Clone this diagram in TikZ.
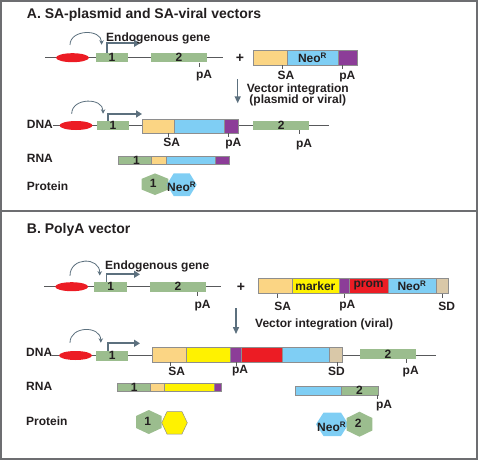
\documentclass[tikz,border=0pt]{standalone}
\usepackage{fontspec}
\setmainfont{Liberation Sans}
\usepackage{tikz}
\usetikzlibrary{arrows.meta, shapes.geometric}

\definecolor{exongreen}{HTML}{9BBD8E}
\definecolor{enhred}{HTML}{EC1C24}
\definecolor{saorange}{HTML}{FBD584}
\definecolor{neoblue}{HTML}{7FCEF4}
\definecolor{papurple}{HTML}{8C3D98}
\definecolor{markeryellow}{HTML}{FFF200}
\definecolor{sdtan}{HTML}{D9C8A8}
\definecolor{slate}{HTML}{5C707E}
\definecolor{segline}{HTML}{8E8E8E}
\definecolor{dnagray}{HTML}{58595B}
\definecolor{framegray}{HTML}{6D6E71}
\definecolor{txt}{HTML}{231F20}

\begin{document}
\begin{tikzpicture}[x=1pt, y=-1pt,
    every node/.style={font=\fontsize{12}{14}\selectfont\bfseries, text=txt, inner sep=0pt},
    title/.style={anchor=base west, font=\fontsize{14}{16}\selectfont\bfseries},
    seg/.style={draw=segline, line width=0.4pt, minimum height=15pt},
    exon/.style={fill=exongreen, minimum height=9.5pt},
    rna/.style={draw=segline, line width=0.4pt, minimum height=8.5pt},
    enh/.style={ellipse, fill=enhred, minimum width=33pt, minimum height=9pt},
    dna/.style={draw=dnagray, line width=0.8pt},
    tickmark/.style={draw=dnagray, line width=0.5pt},
    enharrow/.style={draw=slate, line width=0.8pt, -{Stealth[length=4.5pt,width=4.5pt]}},
    tss/.style={draw=slate, line width=1.8pt, -{Triangle[length=6pt,width=7pt]}},
    integ/.style={draw=slate, line width=1.5pt, -{Triangle[length=7pt,width=6pt]}}]
\useasboundingbox (0,0) rectangle (478,460);

% frame and divider
\draw[framegray, line width=1.5pt] (1.2,1.2) rectangle (476.8,458.8);
\draw[framegray, line width=1.2pt] (1.2,211) -- (476.8,211);

%%%% A. SA-plasmid and SA-viral vectors
\node[title] (titleA) at (26.7,18.5) {A. SA-plasmid and SA-viral vectors};

% endogenous locus
\coordinate (a1L) at (45,57.7);
\coordinate (a1R) at (222.7,57.7);
\draw[dna] (a1L) -- (a1R);
\node[enh] (enhA1) at (72.5,57.7) {};
\node[exon, minimum width=32.3pt] (exA1a) at (111.9,57.7) {1};
\node[exon, minimum width=56pt] (exA1b) at (179,57.7) {2};
\draw[tickmark] ([xshift=20pt]exA1b.south) -- ++(0,4);
\node[anchor=base] (pAA1) at (204,78.7) {pA};
\draw[enharrow] ([xshift=-2.5pt,yshift=8pt]enhA1.north) .. controls +(0,-16) and +(0,-16) .. ([xshift=6pt,yshift=8pt]exA1a.north west);
\coordinate (tssA1) at (140,43.3);
\draw[tss] ([xshift=11.6pt]exA1a.north west) |- (tssA1);
\node[anchor=base west] (geneA) at (106,41.3) {Endogenous gene};

\node[font=\fontsize{14}{16}\selectfont\bfseries] (plusA) at (240,58.5) {+};

% vector
\node[seg, fill=saorange, minimum width=34pt] (vAsa) at (270.3,57.7) {};
\node[seg, fill=neoblue, minimum width=50.4pt] (vAneo) at (312.5,57.7) {Neo\textsuperscript{R}};
\node[seg, fill=papurple, minimum width=19.6pt] (vApa) at (347.5,57.7) {};
\draw[tickmark] ([xshift=12.4pt]vAsa.south) -- ++(0,4);
\draw[tickmark] ([xshift=-4.8pt]vApa.south) -- ++(0,4);
\node[anchor=base] (saA) at (286,79.3) {SA};
\node[anchor=base] (pAvA) at (347.3,79.3) {pA};

% integration
\coordinate (intAs) at (237.7,79.3);
\coordinate (intAe) at (237.7,103.3);
\draw[integ] (intAs) -- (intAe);
\node[anchor=base] (intA1) at (297.8,92.5) {Vector integration};
\node[anchor=base] (intA2) at (297.8,103) {(plasmid or viral)};

% integrated locus
\node[anchor=base west] (dnaA) at (26.7,128.5) {DNA};
\coordinate (a2R) at (329.3,125.5);
\draw[dna] (dnaA.east |- a2R) -- (a2R);
\node[enh] (enhA2) at (76,125.5) {};
\node[exon, minimum width=32.6pt] (exA2a) at (113,125.5) {1};
\node[seg, fill=saorange, minimum width=32.3pt, minimum height=14pt] (vA2sa) at (157.85,126) {};
\node[seg, fill=neoblue, minimum width=50pt, minimum height=14pt] (vA2neo) at (199,126) {};
\node[seg, fill=papurple, minimum width=13.7pt, minimum height=14pt] (vA2pa) at (230.85,126) {};
\node[exon, minimum width=55.7pt] (exA2b) at (281.15,125.5) {2};
\draw[tickmark] ([xshift=10.45pt]vA2sa.south) -- ++(0,4);
\draw[tickmark] ([xshift=-2.55pt]vA2pa.south) -- ++(0,4);
\draw[tickmark] ([xshift=18.15pt]exA2b.south) -- ++(0,4);
\node[anchor=base] (saA2) at (171.7,146.7) {SA};
\node[anchor=base] (pAA2) at (233.3,146.7) {pA};
\node[anchor=base] (pAA3) at (304,147.3) {pA};
\draw[enharrow] ([xshift=-4.3pt,yshift=7pt]enhA2.north) .. controls +(0,-16.4) and +(0,-16.4) .. ([xshift=6.6pt,yshift=6.8pt]exA2a.north west);
\coordinate (tssA2) at (142,114);
\draw[tss] ([xshift=11.6pt]exA2a.north west) |- (tssA2);

% RNA
\node[anchor=base west] (rnaA) at (26.7,162) {RNA};
\node[rna, fill=exongreen, minimum width=32.4pt] (rnaA1) at (134.5,160.2) {\hspace{4pt}1};
\node[rna, fill=saorange, minimum width=15pt] (rnaA2) at (158.2,160.2) {};
\node[rna, fill=neoblue, minimum width=49.3pt] (rnaA3) at (190.35,160.2) {};
\node[rna, fill=papurple, minimum width=14pt] (rnaA4) at (222,160.2) {};

% protein
\node[anchor=base west] (protA) at (26.7,190) {Protein};
\fill[exongreen] (141.7,178.8) -- (155,173.4) -- (168.3,178.8) -- (168.3,189.6) -- (155,195) -- (141.7,189.6) -- cycle;
\fill[neoblue] (166.7,184.7) -- (173.7,173.4) -- (189.7,173.4) -- (196.7,184.7) -- (189.7,196) -- (173.7,196) -- cycle;
\node (protA1) at (153.3,183.3) {1};
\node[anchor=base] (protAneo) at (181.7,191.5) {Neo\textsuperscript{R}};

%%%% B. PolyA vector
\node[title] (titleB) at (26.7,233.3) {B. PolyA vector};

% endogenous locus
\coordinate (b1L) at (44,286.7);
\coordinate (b1R) at (221,286.7);
\draw[dna] (b1L) -- (b1R);
\node[enh] (enhB1) at (71.7,286.7) {};
\node[exon, minimum width=33pt, minimum height=10pt] (exB1a) at (110.8,286.7) {1};
\node[exon, minimum width=55.7pt, minimum height=10pt] (exB1b) at (177.85,286.7) {2};
\draw[tickmark] ([xshift=19.85pt]exB1b.south) -- ++(0,4);
\node[anchor=base] (pAB1) at (202.5,308) {pA};
\draw[enharrow] ([xshift=-1.7pt,yshift=6.2pt]enhB1.north) .. controls +(0,-19) and +(0,-19) .. ([xshift=5.7pt,yshift=5.9pt]exB1a.north west);
\coordinate (tssB1) at (140,274.3);
\draw[tss] ([xshift=12.4pt]exB1a.north west) |- (tssB1);
\node[anchor=base west] (geneB) at (105,269) {Endogenous gene};

\node[font=\fontsize{14}{16}\selectfont\bfseries] (plusB) at (241,287) {+};

% vector
\node[seg, fill=saorange, minimum width=33.4pt] (vBsa) at (275,285.8) {};
\node[seg, fill=markeryellow, minimum width=47.3pt] (vBmk) at (315.35,285.8) {marker};
\node[seg, fill=papurple, minimum width=10pt] (vBpa) at (344,285.8) {};
\node[seg, fill=enhred, minimum width=39.3pt] (vBprom) at (368.65,285.8) {prom};
\node[seg, fill=neoblue, minimum width=47.4pt] (vBneo) at (412,285.8) {Neo\textsuperscript{R}};
\node[seg, fill=sdtan, minimum width=12.6pt] (vBsd) at (442,285.8) {};
\draw[tickmark] ([xshift=2.3pt]vBsa.south) -- ++(0,4);
\draw[tickmark] ([xshift=0.3pt]vBpa.south) -- ++(0,4);
\draw[tickmark] ([xshift=0.3pt]vBsd.south) -- ++(0,4);
\node[anchor=base] (saB) at (282.7,310) {SA};
\node[anchor=base] (pAvB) at (347.3,308.5) {pA};
\node[anchor=base] (sdB) at (446.7,310.5) {SD};

% integration
\coordinate (intBs) at (236,308.3);
\coordinate (intBe) at (236,334);
\draw[integ] (intBs) -- (intBe);
\node[anchor=base west] (intB) at (255,327) {Vector integration (viral)};

% integrated locus
\node[anchor=base west] (dnaB) at (26,356.7) {DNA};
\coordinate (b2R) at (436,355);
\draw[dna] (dnaB.east |- b2R) -- (b2R);
\node[enh] (enhB2) at (75.5,355.5) {};
\node[exon, minimum width=32.3pt, minimum height=9.7pt] (exB2a) at (112.15,355.8) {1};
\node[seg, fill=saorange, minimum width=33.4pt] (vB2sa) at (169,354.2) {};
\node[seg, fill=markeryellow, minimum width=44.3pt] (vB2mk) at (207.85,354.2) {};
\node[seg, fill=papurple, minimum width=10.7pt] (vB2pa) at (235.35,354.2) {};
\node[seg, fill=enhred, minimum width=41pt] (vB2prom) at (261.2,354.2) {};
\node[seg, fill=neoblue, minimum width=47.3pt] (vB2neo) at (305.35,354.2) {};
\node[seg, fill=sdtan, minimum width=12.7pt] (vB2sd) at (335.35,354.2) {};
\node[exon, minimum width=55.7pt, minimum height=10pt] (exB2b) at (387.85,354) {2};
\draw[tickmark] ([xshift=1.7pt]vB2sa.south) -- ++(0,4);
\draw[tickmark] ([xshift=0.65pt]vB2pa.south) -- ++(0,4);
\draw[tickmark] ([xshift=1.65pt]vB2sd.south) -- ++(0,4);
\draw[tickmark] ([xshift=18.85pt]exB2b.south) -- ++(0,4);
\node[anchor=base] (saB2) at (176.7,375.5) {SA};
\node[anchor=base] (pAB2) at (240,373.5) {pA};
\node[anchor=base] (sdB2) at (336.5,375) {SD};
\node[anchor=base] (pAB3) at (410.7,374) {pA};
\draw[enharrow] ([xshift=-5.5pt,yshift=8pt]enhB2.north) .. controls +(0,-17.3) and +(0,-17.3) .. ([xshift=5pt,yshift=8pt]exB2a.north west);
\coordinate (tssB2) at (140,343.3);
\draw[tss] ([xshift=12pt]exB2a.north west) |- (tssB2);

% RNA
\node[anchor=base west] (rnaB) at (26,390) {RNA};
\node[rna, fill=exongreen, minimum width=32.7pt] (rnaB1) at (133.65,387.2) {\hspace{1pt}1};
\node[rna, fill=saorange, minimum width=14.3pt] (rnaB2) at (157.15,387.2) {};
\node[rna, fill=markeryellow, minimum width=49.7pt] (rnaB3) at (189.15,387.2) {};
\node[rna, fill=papurple, minimum width=6.7pt] (rnaB4) at (217.35,387.2) {};
\node[rna, fill=neoblue, minimum width=45.7pt] (rnaB5) at (317.85,390.5) {};
\node[rna, fill=exongreen, minimum width=37.6pt] (rnaB6) at (359.5,390.5) {2};
\draw[tickmark] ([xshift=17.8pt]rnaB6.south) -- ++(0,4);
\node[anchor=base] (pAB4) at (384,408.3) {pA};

% protein
\node[anchor=base west] (protB) at (26,425.7) {Protein};
\fill[exongreen] (136,416) -- (148.8,410) -- (161.6,416) -- (161.6,428) -- (148.8,434) -- (136,428) -- cycle;
\filldraw[fill=markeryellow, draw=segline, line width=0.5pt] (161.7,422.8) -- (167,411.6) -- (182,411.6) -- (187.3,422.8) -- (182,434) -- (167,434) -- cycle;
\node (protB1) at (147.7,421.7) {1};
\fill[neoblue] (316,424.3) -- (323.5,412.6) -- (341,412.6) -- (348.4,424.3) -- (341,436) -- (323.5,436) -- cycle;
\fill[exongreen] (346.7,418) -- (359.5,411.7) -- (372.3,418) -- (372.3,430.5) -- (359.5,436.7) -- (346.7,430.5) -- cycle;
\node[anchor=base] (protBneo) at (331.7,431.7) {Neo\textsuperscript{R}};
\node (protB2) at (358.3,423.3) {2};
\end{tikzpicture}
\end{document}
